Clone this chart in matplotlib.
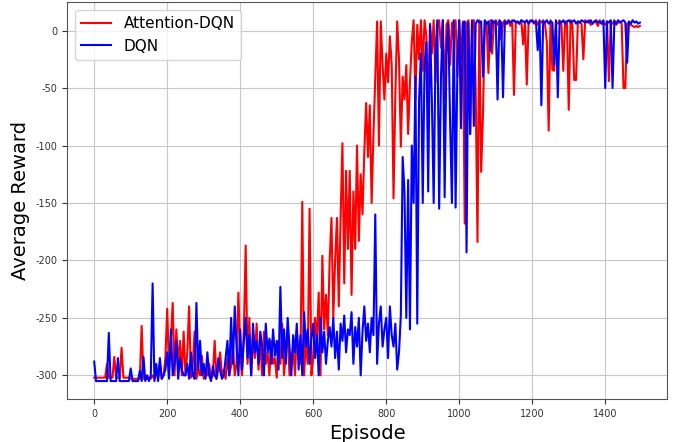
import numpy as np
import matplotlib
matplotlib.use("Agg")
from matplotlib import pyplot as plt

# episodes sampled every 5 steps
episodes = np.arange(0, 1500, 5)

attention_dqn = [
    -302, -302, -302, -302, -302, -302, -302, -290, -302, -302,
    -302, -284, -302, -302, -302, -276, -302, -302, -302, -302,
    -303, -303, -303, -303, -303, -303, -257, -303, -303, -303,
    -302, -303, -300, -303, -296, -303, -290, -303, -300, -285,
    -242, -295, -270, -237, -300, -260, -290, -270, -300, -262,
    -300, -280, -240, -302, -290, -262, -303, -295, -300, -283,
    -303, -295, -300, -290, -303, -300, -270, -303, -295, -280,
    -300, -295, -303, -285, -300, -292, -275, -300, -290, -228,
    -280, -300, -260, -187, -290, -250, -300, -268, -285, -255,
    -295, -270, -300, -262, -290, -280, -300, -270, -290, -285,
    -302, -270, -290, -255, -300, -280, -262, -300, -290, -275,
    -300, -262, -280, -290, -149, -300, -270, -290, -155, -300,
    -285, -250, -270, -228, -300, -196, -260, -230, -265, -200,
    -163, -250, -200, -163, -240, -163, -98, -220, -122, -190,
    -122, -230, -140, -190, -100, -183, -125, -160, -105, -63,
    -110, -65, -150, -90, -40, 8, -100, 8, -30, -60,
    -20, -45, -5, -30, -146, -55, 8, -25, -101, -40,
    -60, -30, -90, -45, -10, 9, -60, 5, -25, 9,
    -35, 9, -5, -70, 6, -20, 9, -45, 3, 9,
    -15, 9, -60, 5, 9, -30, 7, -8, 9, -40,
    9, -25, 8, -168, 6, 9, -90, 5, 9, -50,
    -184, 9, -123, -74, 8, 6, -37, 9, -20, 7,
    9, 5, 8, -8, 7, 9, 6, 8, 4, 9,
    -56, 8, 7, 6, 9, -12, 8, -47, 7, 9,
    8, 6, 9, 5, 8, 7, 9, 6, -10, -87,
    9, -34, -35, 7, 6, 9, 5, -35, 8, 7,
    -69, 9, 6, -43, -43, 8, 7, 6, -25, 9,
    7, 9, 5, 6, 8, 7, 4, 9, 6, 7,
    5, 8, -44, 7, 6, 9, 5, 7, 8, 6,
    -50, -50, 6, 7, 5, 4, 3, 4, 3, 4,
]

dqn = [
    -288, -305, -305, -305, -305, -305, -305, -305, -263, -305,
    -305, -305, -305, -285, -305, -305, -305, -305, -305, -305,
    -294, -305, -305, -305, -305, -296, -305, -284, -305, -300,
    -305, -300, -220, -305, -290, -305, -285, -303, -300, -295,
    -280, -303, -260, -300, -290, -270, -303, -285, -295, -300,
    -300, -290, -303, -280, -300, -303, -237, -295, -270, -300,
    -290, -303, -280, -300, -305, -292, -300, -303, -285, -296,
    -303, -300, -285, -270, -300, -250, -290, -240, -275, -300,
    -260, -295, -270, -250, -285, -265, -300, -255, -280, -270,
    -290, -262, -275, -300, -255, -280, -268, -290, -260, -283,
    -270, -295, -223, -285, -260, -290, -250, -275, -300, -265,
    -280, -255, -295, -265, -300, -245, -275, -260, -290, -268,
    -255, -285, -265, -300, -250, -280, -262, -290, -270, -258,
    -275, -250, -285, -262, -295, -255, -270, -248, -280, -260,
    -265, -245, -290, -258, -275, -250, -300, -262, -240, -270,
    -255, -280, -250, -265, -160, -290, -255, -240, -275, -260,
    -250, -285, -240, -265, -275, -255, -295, -280, -248, -110,
    -140, -250, -130, -260, -100, -150, -40, -255, -60, -20,
    -150, -30, -10, -140, 5, -60, -150, -20, 9, -155,
    -40, 9, -145, -20, 6, -80, -150, 9, -154, -30,
    9, -85, 6, 8, -193, 7, -90, 9, -83, 6,
    9, 7, 8, -40, 9, 6, 8, -18, 9, 7,
    8, -60, 9, 7, -58, 8, 6, 9, 7, 8,
    9, 7, 8, 6, 9, 8, 7, 9, 6, 8,
    9, 7, 8, -17, 9, -65, 8, 7, 9, 6,
    8, 7, -30, 9, -58, 8, 7, 9, 6, 8,
    9, 7, 8, 9, 6, 8, 7, 9, 8, 7,
    8, 7, 9, 6, 8, 9, 7, 8, 6, 9,
    -50, 8, 7, 9, -50, 8, 6, 9, 7, 8,
    9, 7, -28, 8, 6, 9, 7, 8, 6, 7,
]

plt.rcParams['axes.unicode_minus'] = False

fig, ax = plt.subplots(figsize=(6.76, 4.42), dpi=100)
fig.subplots_adjust(left=0.099, right=0.987, bottom=0.097, top=0.995)

ax.plot(episodes, attention_dqn, color='r', lw=1.5, label='Attention-DQN')
ax.plot(episodes, dqn, color='b', lw=1.5, label='DQN')

ax.set_xlabel('Episode', fontsize=14)
ax.set_ylabel('Average Reward', fontsize=14)
ax.tick_params(labelsize=7, colors='#333333')
ax.set_xticks([0, 200, 400, 600, 800, 1000, 1200, 1400])
for s in ax.spines.values():
    s.set_color('#555555')
ax.grid(True, color='#c8c8c8')
ax.legend(loc='upper left', fontsize=11)

plt.savefig('out.png')
